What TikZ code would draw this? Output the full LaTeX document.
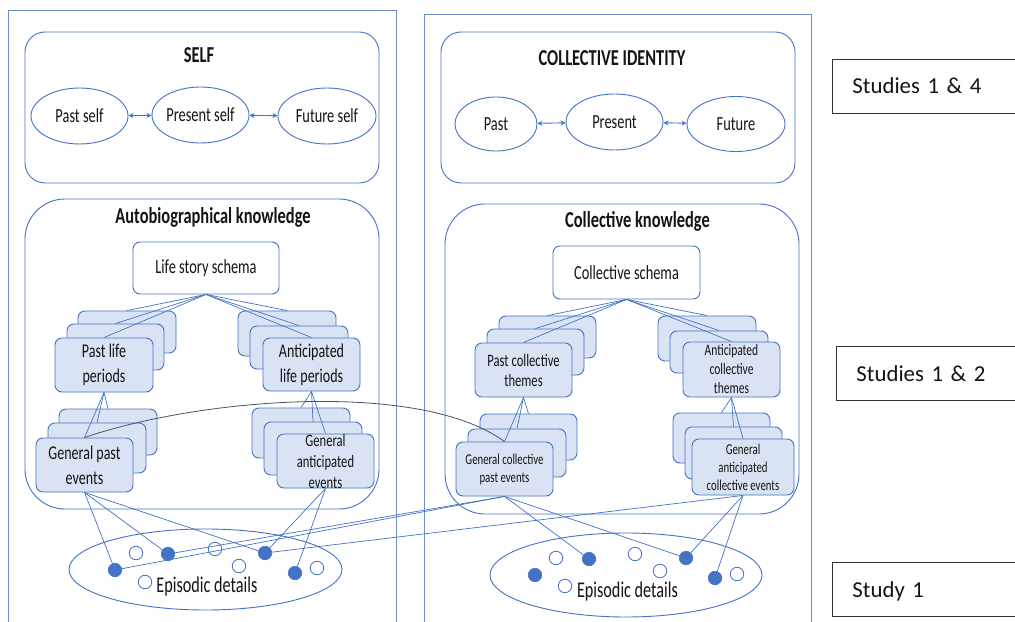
\documentclass[tikz,border=0pt]{standalone}
\usepackage{fontspec}
\setmainfont{Carlito}
\newfontfamily\dfont{Carlito}[FakeStretch=0.72]
\usetikzlibrary{shapes.geometric,arrows.meta}

\definecolor{edge}{HTML}{4472C4}
\definecolor{panel}{HTML}{6F8FCB}
\definecolor{boxfill}{HTML}{DAE3F3}
\definecolor{bridgecol}{HTML}{44546A}
\definecolor{ink}{HTML}{141414}

\tikzset{
  ttl/.style={text=ink, inner sep=0pt, anchor=base, font=\dfont\bfseries\fontsize{22.8bp}{27bp}\selectfont},
  frame/.style={draw=edge, line width=0.9bp, rounded corners=20bp, inner sep=0pt},
  bigframe/.style={frame, rounded corners=40bp},
  panelline/.style={draw=panel, line width=1bp},
  selfell/.style={ellipse, draw=edge, line width=0.9bp, fill=white, inner sep=0pt, text=ink,
                  font=\dfont\fontsize{20bp}{23bp}\selectfont},
  schemabox/.style={draw=edge, fill=white, line width=0.9bp, rounded corners=7bp, inner sep=0pt,
                    text=ink, font=\dfont\fontsize{20bp}{24bp}\selectfont},
  layer/.style={draw=edge, fill=boxfill, line width=0.9bp, rounded corners=7bp, inner sep=0pt},
  lbl/.style={text=ink, inner sep=0pt, align=center},
  f20/.style={lbl, font=\dfont\fontsize{19.5bp}{25bp}\selectfont},
  f175/.style={lbl, font=\dfont\fontsize{17.5bp}{21bp}\selectfont},
  f17/.style={lbl, font=\dfont\fontsize{17.5bp}{20bp}\selectfont},
  f16/.style={lbl, font=\dfont\fontsize{16bp}{19bp}\selectfont},
  f15/.style={lbl, font=\dfont\fontsize{15bp}{18bp}\selectfont},
  link/.style={draw=edge, line width=0.7bp},
  twoway/.style={<->, draw=edge, line width=0.9bp, >={Stealth[length=5bp,width=5bp]}},
  bridge/.style={draw=bridgecol, line width=0.8bp},
  full/.style={circle, fill=edge, draw=edge, line width=0.6bp, minimum size=13.5bp, inner sep=0pt},
  hollow/.style={circle, fill=white, draw=edge, line width=0.8bp, minimum size=13.5bp, inner sep=0pt},
  epis/.style={ellipse, draw=edge, line width=0.9bp, inner sep=0pt},
  epilbl/.style={text=ink, inner sep=0pt, anchor=base, font=\dfont\fontsize{22.5bp}{26bp}\selectfont},
  study/.style={draw=black!80, line width=0.9bp, anchor=west, minimum height=54bp, text width=160bp,
                inner xsep=20bp, inner ysep=0pt, text height=16bp, text depth=0bp, align=left,
                text=ink, font=\fontsize{22.8bp}{28bp}\selectfont}
}

\begin{document}
\begin{tikzpicture}[x=1bp, y=-1bp]
\useasboundingbox[fill=white] (0,0) rectangle (1015,622);

% outer panels (open at the bottom)
\draw[panelline] (8,630) -- (8,11) -- (396,11) -- (396,630);
\draw[panelline] (424,630) -- (424,15) -- (811,15) -- (811,630);

% frames
\node[frame, minimum width=354bp, minimum height=151bp] (selfbox) at (202,107.5) {};
\node[frame, minimum width=354bp, minimum height=151bp] (cibox) at (618,107.5) {};
\node[bigframe, minimum width=354bp, minimum height=310bp] (akbox) at (202,354) {};
\node[bigframe, minimum width=354bp, minimum height=310bp] (ckbox) at (622,359) {};

% titles
\node[ttl] (selft) at (199,62.5) {SELF};
\node[ttl] (cit) at (612,66) {COLLECTIVE IDENTITY};
\node[ttl] (akt) at (213,224) {Autobiographical knowledge};
\node[ttl] (ckt) at (637.5,227.5) {Collective knowledge};

% temporal ellipses
\node[selfell, minimum width=97bp, minimum height=56bp] (pself) at (79.5,116) {Past self};
\node[selfell, minimum width=97bp, minimum height=56bp] (prself) at (200.5,115) {Present self};
\node[selfell, minimum width=98bp, minimum height=56bp] (fself) at (327,116) {Future self};
\node[selfell, minimum width=82bp, minimum height=54bp] (pcol) at (496,124) {Past};
\node[selfell, minimum width=97bp, minimum height=56bp] (prcol) at (614.5,122) {Present};
\node[selfell, minimum width=98bp, minimum height=55bp] (fcol) at (736,124) {Future};
\draw[twoway] (pself) -- (prself);
\draw[twoway] (prself) -- (fself);
\draw[twoway] (pcol) -- (prcol);
\draw[twoway] (prcol) -- (fcol);

% schemas
\node[schemabox, minimum width=146bp, minimum height=52bp] (lss) at (206,268) {Life story schema};
\node[schemabox, minimum width=147bp, minimum height=53bp] (cs) at (626.5,272.5) {Collective schema};

% past life periods
\node[layer, minimum width=98bp, minimum height=42bp] (plpB) at (127,332) {};
\node[layer, minimum width=97bp, minimum height=46bp] (plpM) at (115.5,347) {};
\node[layer, minimum width=98bp, minimum height=54bp, label={[f20]center:Past life\\periods}] (plpF) at (104,365) {};
% anticipated life periods
\node[layer, minimum width=98bp, minimum height=45bp] (alpB) at (287,333.5) {};
\node[layer, minimum width=98bp, minimum height=43bp] (alpM) at (299,347.5) {};
\node[layer, minimum width=97bp, minimum height=53bp, label={[f20]center:Anticipated\\life periods}] (alpF) at (311.5,364.5) {};
% general past events
\node[layer, minimum width=98bp, minimum height=46bp] (gpeB) at (108,432) {};
\node[layer, minimum width=98bp, minimum height=50bp] (gpeM) at (97,448) {};
\node[layer, minimum width=97bp, minimum height=54bp, label={[f20]center:General past\\events}] (gpeF) at (84.5,465) {};
% general anticipated events
\node[layer, minimum width=98bp, minimum height=50bp] (gaeB) at (301,433) {};
\node[layer, minimum width=98bp, minimum height=53bp] (gaeM) at (313,448.5) {};
\node[layer, minimum width=97bp, minimum height=54bp, label={[f175]center:General\\anticipated\\events}] (gaeF) at (325.5,461) {};

% past collective themes
\node[layer, minimum width=97bp, minimum height=42bp] (pctB) at (547.5,337) {};
\node[layer, minimum width=97bp, minimum height=46bp] (pctM) at (535.5,352) {};
\node[layer, minimum width=97bp, minimum height=54bp, label={[f17]center:Past collective\\themes}] (pctF) at (523.5,370) {};
% anticipated collective themes
\node[layer, minimum width=98bp, minimum height=45bp] (actB) at (707,338.5) {};
\node[layer, minimum width=98bp, minimum height=42bp] (actM) at (719,352) {};
\node[layer, minimum width=97bp, minimum height=55bp, label={[f16]center:Anticipated\\collective\\themes}] (actF) at (731.5,369.5) {};
% general collective past events
\node[layer, minimum width=97bp, minimum height=46bp] (gcpeB) at (528.5,437) {};
\node[layer, minimum width=98bp, minimum height=48bp] (gcpeM) at (517,453) {};
\node[layer, minimum width=97bp, minimum height=54bp, label={[f15]center:General collective\\past events}] (gcpeF) at (504.5,469) {};
% general anticipated collective events
\node[layer, minimum width=97bp, minimum height=50bp] (gaceB) at (721.5,438) {};
\node[layer, minimum width=97bp, minimum height=52bp] (gaceM) at (733.5,453) {};
\node[layer, minimum width=102bp, minimum height=56bp, label={[f15]center:General\\anticipated\\collective events}] (gaceF) at (743,467) {};

% episodic details
\node[epis, minimum width=273bp, minimum height=81bp] (epL) at (205.5,569.5) {};
\node[epilbl] (epLt) at (207,592) {Episodic details};
\node[epis, minimum width=272bp, minimum height=84bp] (epR) at (626,575) {};
\node[epilbl] (epRt) at (627.5,597) {Episodic details};

\node[full] (ld1) at (115,570) {};
\node[full] (ld2) at (168,554) {};
\node[full] (ld3) at (265,553) {};
\node[full] (ld4) at (295,573) {};
\node[hollow] (lo1) at (136,553) {};
\node[hollow] (lo2) at (215,549) {};
\node[hollow] (lo3) at (239,566) {};
\node[hollow] (lo4) at (145,582) {};
\node[hollow] (lo5) at (317,568) {};

\node[full] (rd1) at (535,575) {};
\node[full] (rd2) at (589,559) {};
\node[full] (rd3) at (686,558) {};
\node[full] (rd4) at (715,578) {};
\node[hollow] (ro1) at (556,558) {};
\node[hollow] (ro2) at (635,554) {};
\node[hollow] (ro3) at (660,571) {};
\node[hollow] (ro4) at (565,586) {};
\node[hollow] (ro5) at (737,574) {};

% hierarchy links
\foreach \n in {plpB,plpM,plpF,alpB,alpM,alpF} \draw[link] (lss.south) -- (\n.north);
\foreach \n in {gpeB,gpeM,gpeF} \draw[link] (plpF.south) -- (\n.north);
\foreach \n in {gaeB,gaeM,gaeF} \draw[link] (alpF.south) -- (\n.north);
\foreach \n in {pctB,pctM,pctF,actB,actM,actF} \draw[link] (cs.south) -- (\n.north);
\foreach \n in {gcpeB,gcpeM,gcpeF} \draw[link] (pctF.south) -- (\n.north);
\foreach \n in {gaceB,gaceM,gaceF} \draw[link] (actF.south) -- (\n.north);

% links to episodic details
\foreach \n in {ld1,ld2,ld3} \draw[link] (gpeF.south) -- (\n);
\foreach \n in {ld3,ld4} \draw[link] (gaeF.south) -- (\n);
\foreach \n in {rd2,rd3,ld1,ld2} \draw[link] (gcpeF.south) -- (\n);
\foreach \n in {rd3,rd4,ld3} \draw[link] (gaceF.south) -- (\n);

% link between personal and collective past events
\draw[bridge] (gpeF.north) .. controls (200,398) and (420,380) .. (gcpeF.north);

% study labels
\node[study] (s14) at (832,86) {Studies 1 \& 4};
\node[study] (s12) at (836,373.5) {Studies 1 \& 2};
\node[study] (s1) at (832,589.5) {Study 1};
\end{tikzpicture}
\end{document}
